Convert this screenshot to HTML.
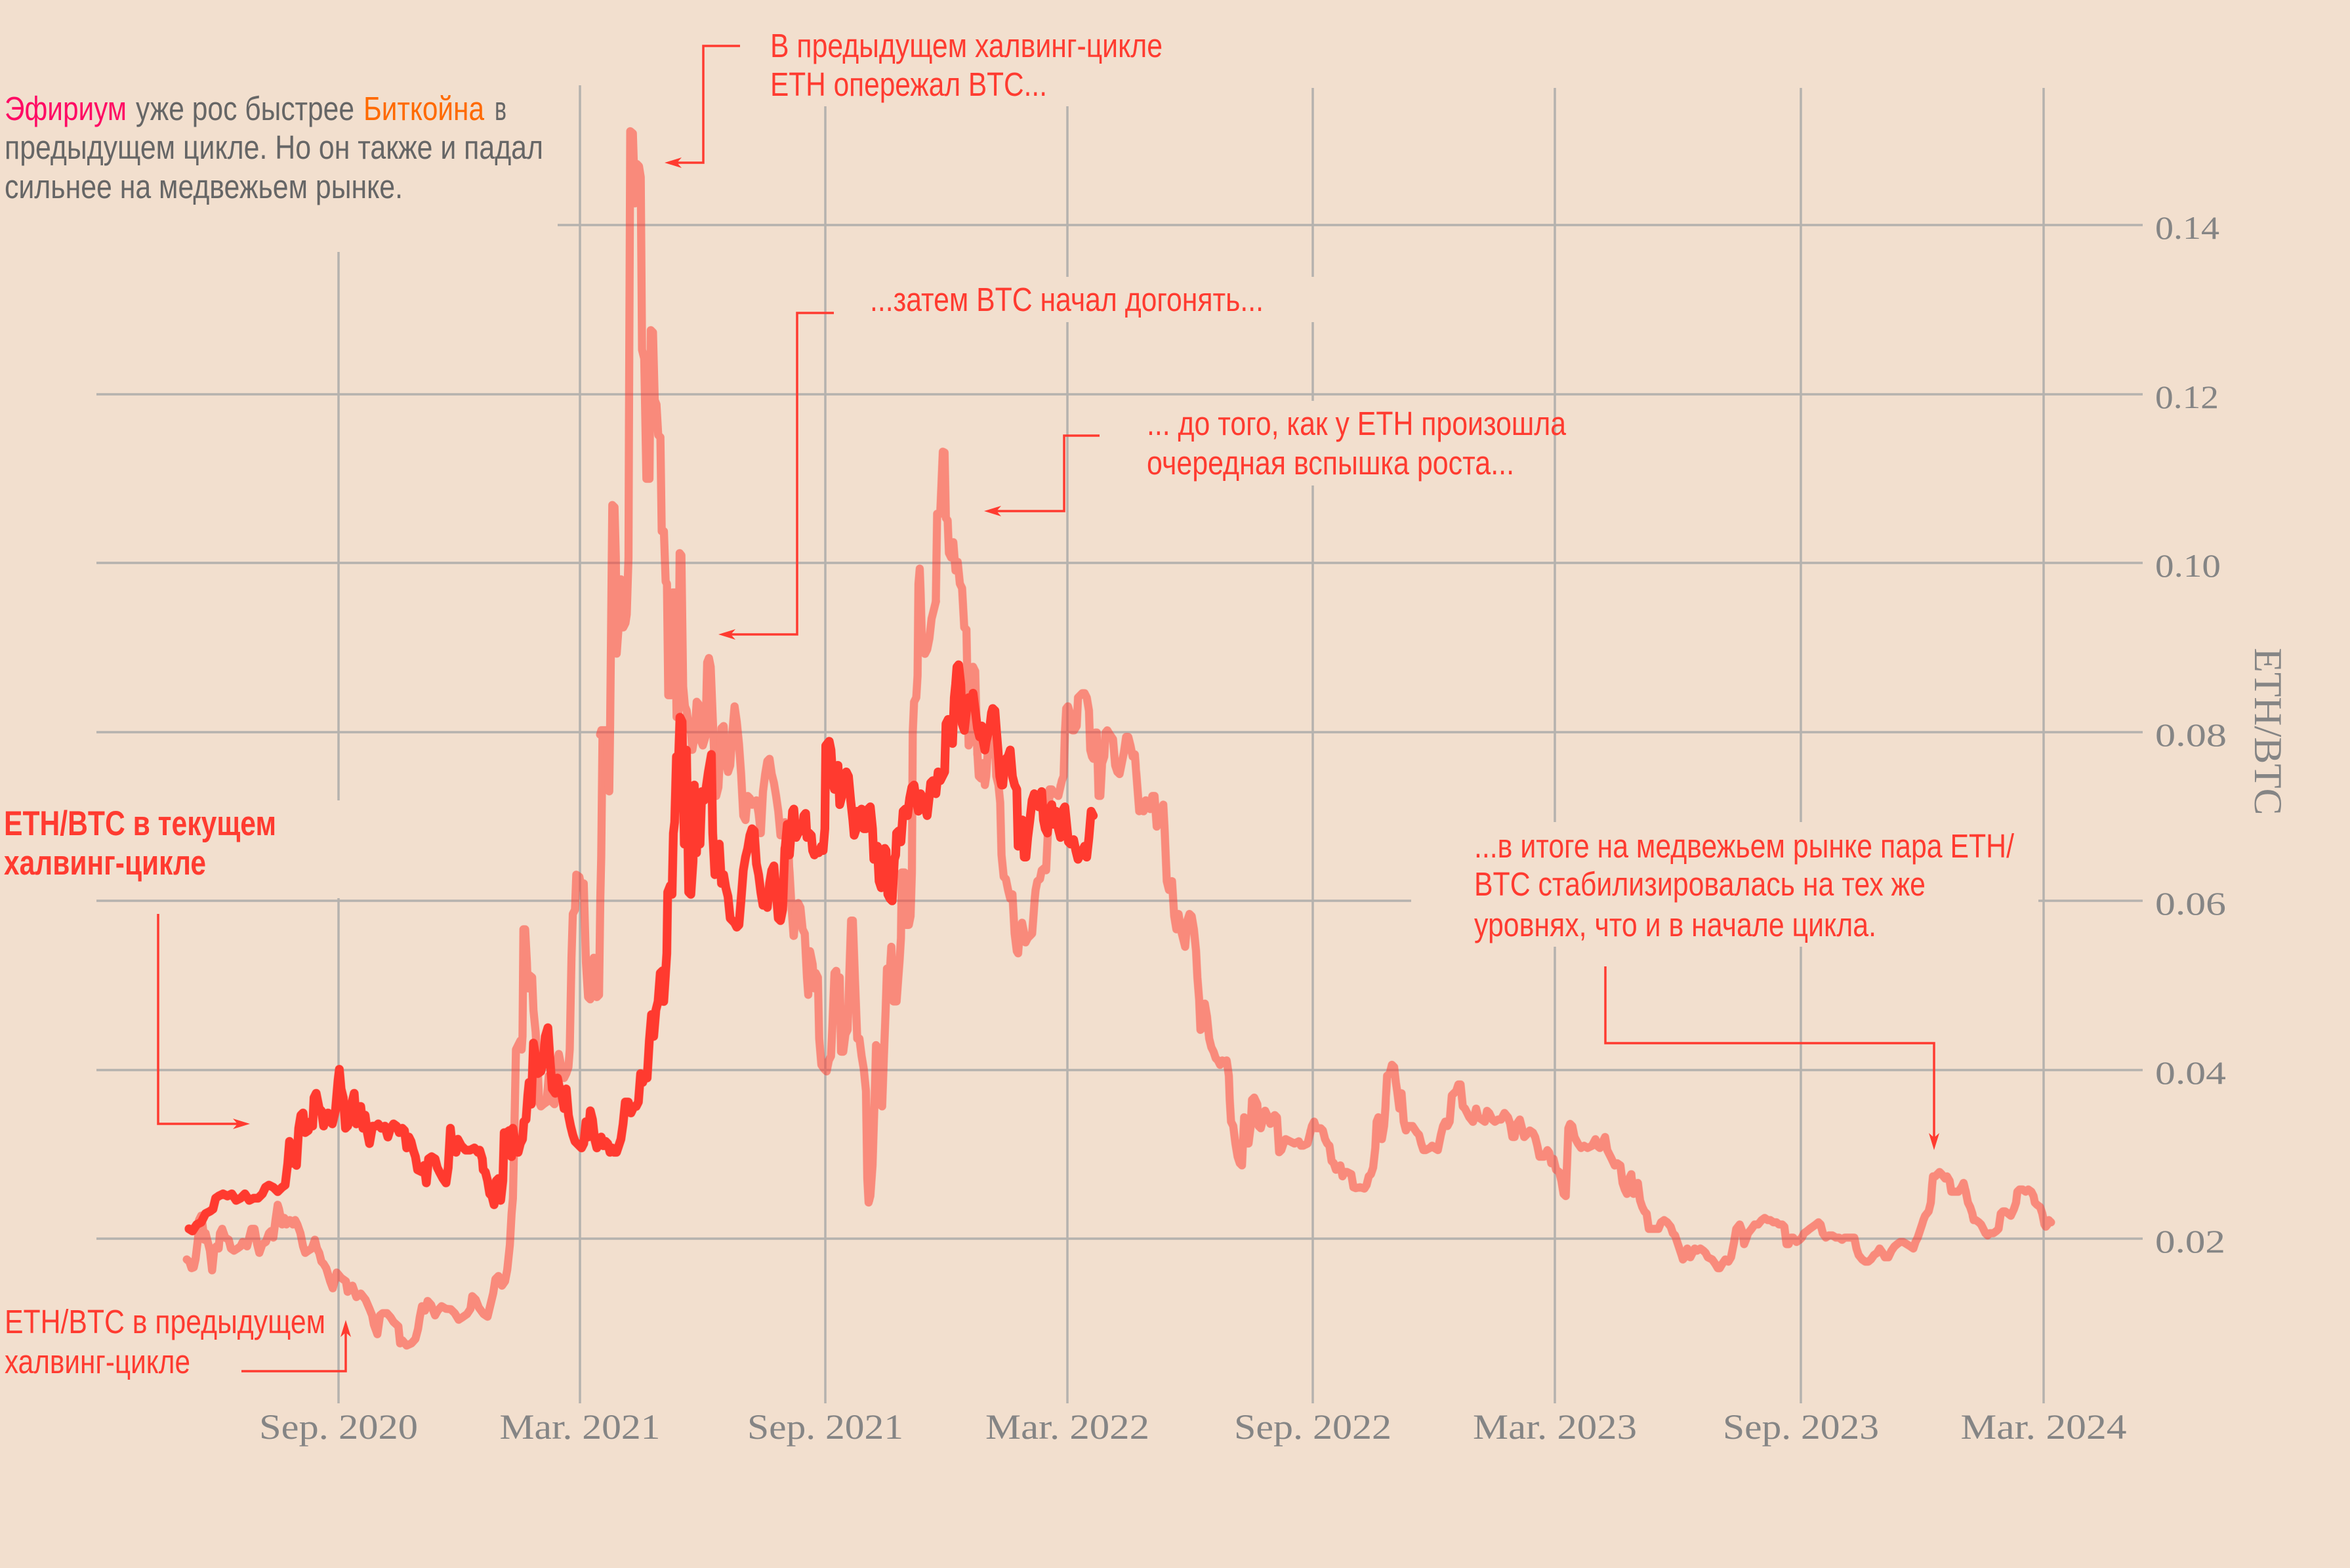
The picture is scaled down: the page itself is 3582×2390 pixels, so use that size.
<!DOCTYPE html>
<html>
<head>
<meta charset="utf-8">
<style>
html,body{margin:0;padding:0;background:#f2dfce;}
svg{display:block;}
.ann{font-family:"Liberation Sans","Noto Sans CJK SC",sans-serif;font-size:51px;}
.tick{font-family:"Liberation Serif","DejaVu Serif",serif;fill:#858585;}
</style>
</head>
<body>
<svg xmlns="http://www.w3.org/2000/svg" width="3582" height="2390" viewBox="0 0 3582 2390">
<rect x="0" y="0" width="3582" height="2390" fill="#f2dfce"/>

<!-- gridlines -->
<g stroke="#b5b2ae" stroke-width="3.5" fill="none">
  <line x1="850" y1="343" x2="3266" y2="343"/>
  <line x1="147" y1="601" x2="3266" y2="601"/>
  <line x1="147" y1="858" x2="3266" y2="858"/>
  <line x1="147" y1="1116" x2="3266" y2="1116"/>
  <line x1="147" y1="1373" x2="2151" y2="1373"/>
  <line x1="3107" y1="1373" x2="3266" y2="1373"/>
  <line x1="147" y1="1631" x2="3266" y2="1631"/>
  <line x1="147" y1="1888" x2="3266" y2="1888"/>

  <line x1="516" y1="384" x2="516" y2="1220"/>
  <line x1="516" y1="1369" x2="516" y2="2139"/>
  <line x1="884" y1="130" x2="884" y2="2139"/>
  <line x1="1258" y1="162" x2="1258" y2="2139"/>
  <line x1="1627" y1="162" x2="1627" y2="422"/>
  <line x1="1627" y1="491" x2="1627" y2="2139"/>
  <line x1="2001" y1="134" x2="2001" y2="422"/>
  <line x1="2001" y1="491" x2="2001" y2="611"/>
  <line x1="2001" y1="740" x2="2001" y2="2139"/>
  <line x1="2370" y1="134" x2="2370" y2="1253"/>
  <line x1="2370" y1="1443" x2="2370" y2="2139"/>
  <line x1="2745" y1="134" x2="2745" y2="1253"/>
  <line x1="2745" y1="1443" x2="2745" y2="2139"/>
  <line x1="3115" y1="134" x2="3115" y2="2139"/>
</g>

<!-- previous cycle (light) -->
<g opacity="0.52" stroke="#ff3a2f" fill="none" stroke-width="18.5" stroke-linejoin="round" stroke-linecap="round">
  <g transform="translate(250,1000) scale(0.6664)">
    <polyline points="52,1380 58,1385 63,1400 68,1398 72,1380 75,1355 78,1330 80,1290 85,1280 88,1300 92,1335 95,1320 100,1340 105,1360 110,1405 115,1355 120,1350 125,1355 128,1320 133,1310 140,1330 148,1335 153,1355 160,1360 168,1355 175,1350 180,1340 190,1350 195,1330 200,1310 207,1310 213,1345 218,1365 225,1345 233,1340 240,1320 245,1315 250,1330 255,1290 260,1255 263,1265 270,1300 275,1285 280,1300 288,1290 295,1300 300,1290 305,1300 312,1320 318,1350 323,1365 330,1360 338,1355 345,1335 350,1355 355,1365 360,1385 365,1390 371,1400 380,1430 386,1446 395,1410 405,1422 416,1430 420,1454 431,1440 440,1466 450,1458 461,1472 470,1493 476,1508 480,1529 488,1551 494,1508 500,1503 510,1503 518,1512 525,1523 536,1533 540,1572 545,1565 555,1577 566,1572 575,1562 581,1539 585,1512 590,1487 597,1497 603,1475 611,1484 620,1508 626,1497 635,1487 645,1493 656,1494 665,1503 674,1518 683,1512 693,1505 701,1493 705,1464 713,1472 720,1490 731,1505 740,1511 747,1482 753,1457 758,1425 765,1418 773,1440 780,1430 785,1404 791,1347 795,1275 798,1240 800,1150 803,1000 805,900 810,890 815,880 818,900 820,870 822,625 826,625 830,700 832,760 836,730 842,735 845,810 850,860 855,950 858,1020 862,1030 868,1025 875,1020 880,960 885,1000 888,1020 893,1025 897,940 903,910 907,930 910,960 915,965 920,955 925,940 928,900 932,690 935,590 940,580 943,500 950,505 955,530 960,520 965,700 970,780 975,785 980,770 983,690 987,700 990,780 995,775 998,550 1000,460 1003,180"/>
  </g>
  <g transform="translate(850,150) scale(0.6664)">
    <polyline points="97,1455 100,1445 110,1445 113,1470 116,1568 118,1585 120,1435 125,930 130,935 133,1050 135,1270 140,1200 145,1100 150,1210 155,1200 158,1180 162,1050 163,770 166,75 172,80 177,240 181,150 186,155 190,180 193,575 198,595 203,870 210,870 213,530 218,535 222,690 226,700 230,770 235,775 238,990 243,990 247,1105 250,1110 253,1365 260,1365 263,1130 268,1130 272,1415 276,1410 279,1040 283,1045 287,1345 291,1390 295,1400 300,1440 305,1450 308,1490 313,1460 318,1380 322,1385 326,1465 332,1480 338,1460 342,1290 346,1280 350,1300 354,1400 358,1500"/>
  </g>
  <g transform="translate(250,1000) scale(0.6664)">
    <polyline points="1258,225 1263,320 1268,300 1275,165 1280,160 1285,240 1290,265 1295,250 1300,175 1305,115 1310,150 1315,200 1320,270 1325,365 1330,375 1335,320 1340,325 1345,340 1355,330 1360,360 1365,405 1370,310 1375,270 1380,240 1385,235 1390,270 1395,290 1400,320 1405,355 1410,410 1415,410 1420,380 1425,390 1430,480 1435,570 1440,640"/>
  </g>
  <g transform="translate(1200,850) scale(0.6664)">
    <polyline points="15,865 20,800 25,790 30,800 35,850 40,860 45,960 48,1000 52,900 58,930 62,985 65,950 70,960 73,1100 78,1160 85,1170 90,1175 95,1150 100,1140 103,1075 108,950 112,945 116,1000 120,960 123,1130 128,1130 133,1090 138,1080 142,950 146,830 150,830 155,970 160,1100 165,1100 170,1140 175,1170 180,1220 183,1420 186,1475 190,1460 195,1390 200,1230 203,1115 207,1120 212,1250 217,1255 221,1140 225,1035 228,940 235,940 238,890 243,1015 250,1015 254,960 257,920 260,870 262,720 268,720 272,840 278,840 282,820 285,720 287,400 290,330 295,320 298,270 300,60 303,25 305,80 308,190 315,220 320,210 325,185 330,140 335,120 340,100"/>
  </g>
  <g transform="translate(850,150) scale(0.6664)">
    <polyline points="865,1150 868,950 875,950 878,880 881,808 885,810 888,960 892,965 895,1040 900,1050 905,1015 910,1080 915,1060 920,1110 925,1120 930,1210 935,1215 940,1480 945,1470 950,1300 955,1310 960,1500"/>
  </g>
  <g transform="translate(1200,850) scale(0.6664)">
    <polyline points="435,450 438,500 443,505 447,470 452,520 455,500 460,420 465,450 470,380 475,420 478,500 483,520 487,560 490,680 495,730 500,735 505,760 510,780 515,770 520,860 525,900 528,905 532,850 537,835 542,860 545,880 550,870 555,865 560,860 563,820 566,780 568,760 572,740 578,735 582,715 588,710 592,715 596,630 600,530 605,530 610,540 615,540 620,545 628,510 632,500 635,400 638,345 642,340 648,360 652,395 656,395 662,385 665,320 670,315 675,310 680,310 685,320 690,350 693,440 697,455 700,460 705,400 708,400 712,545 716,545 720,470 725,455 728,400 732,395 738,405 745,415 750,475 755,490 760,495 765,470 770,445 775,410 780,410 785,430 790,455 795,450 800,515 805,580 810,575 815,580 820,555 825,560 830,575 835,545 840,545 845,615 850,600 855,580 860,565 863,620 868,740 873,760 880,740 885,820 890,850 895,815 900,850 905,870 910,890 915,830 920,815 925,820 930,850 935,900 938,960 942,1010 945,1080 950,1075 955,1020 960,1050 965,1100 970,1120 975,1130 980,1145 985,1150 990,1160 995,1150 1000,1155 1005,1150 1010,1185 1012,1240 1015,1290 1020,1300 1025,1340 1030,1370 1035,1385 1040,1390 1045,1280 1050,1340 1055,1340 1060,1300 1063,1240 1068,1235 1075,1250 1078,1300 1083,1305 1088,1285 1093,1265 1100,1280 1105,1295 1110,1280 1115,1275 1120,1280 1125,1360 1130,1355 1135,1340 1140,1330 1150,1335 1160,1340 1170,1335 1175,1345 1180,1345 1190,1340 1195,1320 1200,1300 1205,1290 1210,1305 1220,1305 1225,1310 1230,1330 1235,1340 1240,1345 1245,1380 1250,1385 1255,1400 1260,1395 1265,1390 1270,1415 1275,1405 1280,1405 1290,1410 1295,1440 1300,1442 1310,1440 1320,1443 1325,1435 1330,1415 1335,1410 1340,1395 1345,1350 1348,1290 1352,1280 1357,1290 1360,1330 1365,1300 1368,1260 1372,1185 1378,1180 1383,1160 1388,1165 1392,1200 1395,1220 1400,1260 1405,1225 1410,1290 1415,1310 1420,1300 1430,1300 1440,1315 1445,1320 1450,1340 1455,1355 1460,1355 1470,1350 1475,1345 1480,1350 1488,1355 1495,1320 1500,1300 1505,1290 1510,1300 1515,1290 1520,1230 1525,1225 1530,1220 1535,1205 1540,1205 1545,1255 1550,1260 1555,1270 1560,1280 1568,1290"/>
  </g>
  <g transform="translate(2200,1200) scale(0.6664)">
    <polyline points="68,765 75,735 80,755 88,760 95,765 100,740 105,745 112,760 118,765 125,760 132,760 140,745 148,755 153,770 158,800 163,800 168,770 175,760 180,780 185,800 190,795 198,785 205,790 210,800 215,820 220,845 230,845 238,830 242,835 247,860 252,850 258,875 265,880 270,900 275,930 280,935 283,860 286,780 290,770 295,775 300,800 308,815 315,825 322,820 330,825 340,820 348,805 352,820 358,825 365,810 370,800 375,830 380,840 385,850 392,865 398,860 405,865 410,905 415,920 420,930 425,895 430,885 435,930 440,910 445,905 450,945 455,960 460,970 465,975 470,1010 475,1010 485,1010 492,1010 498,995 505,990 512,995 520,1005 525,1020 530,1025 535,1040 540,1055 545,1070 548,1080 552,1075 558,1055 565,1075 570,1065 575,1055 580,1060 588,1055 595,1060 600,1065 605,1075 615,1080 622,1090 628,1100 632,1100 638,1090 645,1080 652,1085 658,1075 665,1040 670,1010 678,1000 685,1020 688,1045 692,1035 697,1020 705,1010 712,1000 720,1000 728,990 735,985 742,990 748,990 755,995 762,995 768,1000 775,1000 780,1005 785,1045 790,1045 795,1030 800,1030 808,1040 815,1035 820,1030 825,1020 832,1015 838,1010 845,1005 852,1000 858,995 863,1000 868,1020 875,1030 882,1025 890,1025 898,1030 905,1030 912,1035 918,1030 925,1030 935,1030 940,1030 945,1055 950,1070 958,1080 965,1085 972,1085 978,1080 985,1070 992,1065 998,1055 1005,1065 1010,1075 1018,1075 1025,1060 1032,1050 1038,1045 1045,1040 1052,1040 1060,1045 1068,1050 1075,1055 1080,1040 1085,1030 1090,1015 1095,1000 1098,990 1102,980 1110,970 1115,950 1118,910 1120,890 1125,890 1130,885 1135,880 1140,885 1148,895 1152,890 1158,900 1162,925 1170,925 1178,925 1185,915 1190,905 1195,925 1200,950 1205,960 1210,975 1213,990 1218,990 1225,995 1230,1000 1235,1010 1240,1020 1245,1025 1250,1020 1258,1020 1265,1015 1270,1010 1275,975 1280,970 1285,970 1292,975 1298,980 1305,965 1310,950 1313,925 1318,920 1325,920 1332,925 1338,920 1345,925 1350,935 1353,950 1358,955 1365,960 1370,975 1373,990 1375,1000 1378,1005 1382,1000 1385,990 1390,995"/>
  </g>
</g>

<!-- current cycle (dark) -->
<g stroke="#ff3a2f" fill="none" stroke-width="20" stroke-linejoin="round" stroke-linecap="round">
  <g transform="translate(250,1000) scale(0.6664)">
    <polyline points="57,1310 65,1315 75,1300 85,1295 95,1275 105,1270 112,1265 118,1240 125,1235 135,1230 145,1235 155,1230 165,1245 175,1240 185,1230 195,1245 205,1240 215,1240 225,1230 232,1215 240,1210 250,1215 260,1225 270,1215 277,1210 283,1160 287,1110 293,1160 297,1140 303,1165 308,1080 313,1050 318,1045 323,1090 330,1085 335,1065 340,1075 343,1010 348,1000 355,1035 360,1040 365,1075 375,1045 385,1070 392,1040 398,970 401,945 405,990 410,1010 415,1080 420,1075 425,1060 430,1020 435,1000 440,1070 445,1045 450,1030 455,1080 460,1050 465,1090 470,1115 477,1075 485,1075 490,1070 497,1080 505,1075 512,1100 518,1080 525,1070 532,1075 538,1090 545,1080 550,1085 555,1125 560,1100 565,1110 570,1130 575,1145 580,1175 590,1180 595,1165 600,1205 605,1150 612,1145 620,1150 625,1170 630,1180 638,1195 645,1205 650,1170 655,1080 660,1130 668,1135 672,1105 680,1120 690,1130 700,1130 710,1125 718,1135 722,1130 728,1150 730,1175 735,1180 740,1200 745,1230 750,1235 755,1255 760,1200 765,1195 770,1245 775,1200 778,1090 783,1090 790,1085 795,1145 798,1080 805,1130 810,1135 815,1115 820,1105 823,1065 828,1060 832,1005 835,975 840,1025 845,885 850,915 855,955 862,950 867,930 872,870 878,850 883,925 888,990 895,1000 900,965 905,990 910,1005 915,1035 920,990 925,1050 930,1075 935,1095 940,1110 945,1115 950,1120 955,1125 960,1115 965,1065 970,1100 975,1040 980,1060 985,1105 990,1125 995,1105 1000,1100 1005,1120 1010,1110 1015,1115 1020,1135 1025,1125 1030,1135 1035,1135 1040,1120 1045,1105 1050,1070 1055,1020 1062,1020 1068,1045 1075,1030 1080,1030 1085,1020 1090,955 1095,975 1100,960 1105,965 1110,880 1115,820 1120,870 1125,810 1130,790 1135,725 1140,720 1143,790 1150,680 1152,540 1158,525 1162,545 1165,405 1168,380 1172,230 1175,290 1180,140 1185,150 1190,430 1195,215 1200,540 1205,545 1210,470 1213,295 1218,450 1222,345 1226,430 1230,310 1235,330 1240,300 1245,265 1252,225 1255,405 1260,500 1265,470 1270,430 1275,520 1280,500 1285,530 1290,550 1295,600 1300,605 1305,610 1310,620 1315,615 1320,555 1325,490 1330,460 1335,440 1340,410 1345,395 1350,400 1355,475 1360,500 1365,540 1370,570 1375,545 1380,575 1385,520 1390,490 1395,480 1400,540 1405,600 1410,605 1415,580 1420,440"/>
  </g>
  <g transform="translate(1200,850) scale(0.6664)">
    <polyline points="-5,665 0,610 5,680 8,640 12,580 15,575 20,640 25,630 30,625 35,620 38,590 42,585 45,640 50,630 55,635 58,670 62,680 68,670 72,675 78,660 82,670 86,620 88,430 92,425 96,420 100,440 105,520 108,530 112,480 116,475 120,565 125,545 130,510 135,490 140,500 145,555 150,600 153,635 158,620 160,580 165,615 170,575 175,620 180,620 185,575 190,570 195,620 198,690 203,665 206,660 210,740 215,755 220,700 223,665 226,670 230,770 235,780 240,785 245,690 248,680 250,630 255,625 260,650 265,580 270,575 275,590 280,550 285,525 290,520 295,555 300,580 305,540 310,550 315,570 320,590 325,545 328,515 333,510 340,540 345,490 350,510 355,500 360,490 363,380 368,370 372,420 375,380 378,425 382,320 385,290 388,250 392,245 397,290 400,380 405,395 410,350 415,320 420,340 425,310 430,350 435,390 440,410 445,385 448,420 452,440 455,420 460,400 463,390 467,355 470,345 475,350 478,390 482,440 486,500 490,520 493,520 497,470 500,460 505,455 510,440 515,500 520,520 525,530 528,660 532,600 535,620 538,600 542,685 546,685 550,640 555,600 560,555 565,540 570,545 575,570 578,545 582,535 586,600 590,620 595,630 600,575 605,565 610,610 615,580 620,620 625,640 628,590 632,575 635,570 640,620 643,650 648,655 655,645 660,670 665,690 670,680 675,670 680,660 685,685 690,640 695,580 700,590"/>
  </g>
</g>

<!-- annotation connectors -->
<g stroke="#ff3b30" stroke-width="3.5" fill="none">
  <polyline points="1128,70 1072,70 1072,248 1032,248"/>
  <polyline points="1271,477 1215,477 1215,967 1114,967"/>
  <polyline points="1676,664 1622,664 1622,779 1519,779"/>
  <polyline points="241,1393 241,1713 362,1713"/>
  <polyline points="368,2090 527,2090 527,2031"/>
  <polyline points="2447,1473 2447,1590 2948,1590 2948,1734"/>
</g>
<g fill="#ff3b30">
  <path d="M1013,248 L1039,240 L1032,248 L1039,256 Z"/>
  <path d="M1095,967 L1121,959 L1114,967 L1121,975 Z"/>
  <path d="M1500,779 L1526,771 L1519,779 L1526,787 Z"/>
  <path d="M381,1713 L355,1705 L362,1713 L355,1721 Z"/>
  <path d="M527,2012 L519,2038 L527,2031 L535,2038 Z"/>
  <path d="M2948,1753 L2940,1727 L2948,1734 L2956,1727 Z"/>
</g>

<!-- annotations -->
<g class="ann">
  <text x="7" y="183" fill="#ff0a64" textLength="186" lengthAdjust="spacingAndGlyphs">Эфириум</text>
  <text x="207" y="183" fill="#666666" textLength="333" lengthAdjust="spacingAndGlyphs">уже рос быстрее</text>
  <text x="554" y="183" fill="#ff6a00" textLength="184" lengthAdjust="spacingAndGlyphs">Биткойна</text>
  <text x="754" y="183" fill="#666666" textLength="18" lengthAdjust="spacingAndGlyphs">в</text>
  <text x="7" y="242" fill="#666666" textLength="821" lengthAdjust="spacingAndGlyphs">предыдущем цикле. Но он также и падал</text>
  <text x="7" y="302" fill="#666666" textLength="607" lengthAdjust="spacingAndGlyphs">сильнее на медвежьем рынке.</text>

  <text x="1174" y="87" fill="#ff3b30" textLength="598" lengthAdjust="spacingAndGlyphs">В предыдущем халвинг-цикле</text>
  <text x="1174" y="146" fill="#ff3b30" textLength="422" lengthAdjust="spacingAndGlyphs">ETH опережал BTC...</text>

  <text x="1326" y="474" fill="#ff3b30" textLength="600" lengthAdjust="spacingAndGlyphs">...затем BTC начал догонять...</text>

  <text x="1748" y="663" fill="#ff3b30" textLength="639" lengthAdjust="spacingAndGlyphs">... до того, как у ETH произошла</text>
  <text x="1748" y="723" fill="#ff3b30" textLength="560" lengthAdjust="spacingAndGlyphs">очередная вспышка роста...</text>

  <text x="6" y="1273" fill="#ff3b30" font-weight="bold" font-size="53" textLength="415" lengthAdjust="spacingAndGlyphs">ETH/BTC в текущем</text>
  <text x="6" y="1333" fill="#ff3b30" font-weight="bold" font-size="53" textLength="308" lengthAdjust="spacingAndGlyphs">халвинг-цикле</text>

  <text x="7" y="2032" fill="#ff3b30" textLength="489" lengthAdjust="spacingAndGlyphs">ETH/BTC в предыдущем</text>
  <text x="7" y="2093" fill="#ff3b30" textLength="283" lengthAdjust="spacingAndGlyphs">халвинг-цикле</text>

  <text x="2247" y="1307" fill="#ff3b30" textLength="823" lengthAdjust="spacingAndGlyphs">...в итоге на медвежьем рынке пара ETH/</text>
  <text x="2247" y="1365" fill="#ff3b30" textLength="688" lengthAdjust="spacingAndGlyphs">BTC стабилизировалась на тех же</text>
  <text x="2247" y="1427" fill="#ff3b30" textLength="613" lengthAdjust="spacingAndGlyphs">уровнях, что и в начале цикла.</text>
</g>

<!-- y axis labels -->
<g class="tick" font-size="50">
  <text x="3285" y="364" textLength="98" lengthAdjust="spacingAndGlyphs">0.14</text>
  <text x="3285" y="622" textLength="97" lengthAdjust="spacingAndGlyphs">0.12</text>
  <text x="3285" y="879" textLength="100" lengthAdjust="spacingAndGlyphs">0.10</text>
  <text x="3285" y="1137" textLength="109" lengthAdjust="spacingAndGlyphs">0.08</text>
  <text x="3285" y="1394" textLength="108" lengthAdjust="spacingAndGlyphs">0.06</text>
  <text x="3285" y="1652" textLength="108" lengthAdjust="spacingAndGlyphs">0.04</text>
  <text x="3285" y="1909" textLength="107" lengthAdjust="spacingAndGlyphs">0.02</text>
</g>
<text class="tick" font-size="60" transform="translate(3437,1115) rotate(90)" text-anchor="middle" textLength="255" lengthAdjust="spacingAndGlyphs">ETH/BTC</text>

<!-- x axis labels -->
<g class="tick" font-size="54" text-anchor="middle">
  <text x="516" y="2193" textLength="242" lengthAdjust="spacingAndGlyphs">Sep. 2020</text>
  <text x="884" y="2193" textLength="245" lengthAdjust="spacingAndGlyphs">Mar. 2021</text>
  <text x="1258" y="2193" textLength="238" lengthAdjust="spacingAndGlyphs">Sep. 2021</text>
  <text x="1627" y="2193" textLength="250" lengthAdjust="spacingAndGlyphs">Mar. 2022</text>
  <text x="2001" y="2193" textLength="240" lengthAdjust="spacingAndGlyphs">Sep. 2022</text>
  <text x="2370" y="2193" textLength="250" lengthAdjust="spacingAndGlyphs">Mar. 2023</text>
  <text x="2745" y="2193" textLength="238" lengthAdjust="spacingAndGlyphs">Sep. 2023</text>
  <text x="3115" y="2193" textLength="253" lengthAdjust="spacingAndGlyphs">Mar. 2024</text>
</g>
</svg>
</body>
</html>
